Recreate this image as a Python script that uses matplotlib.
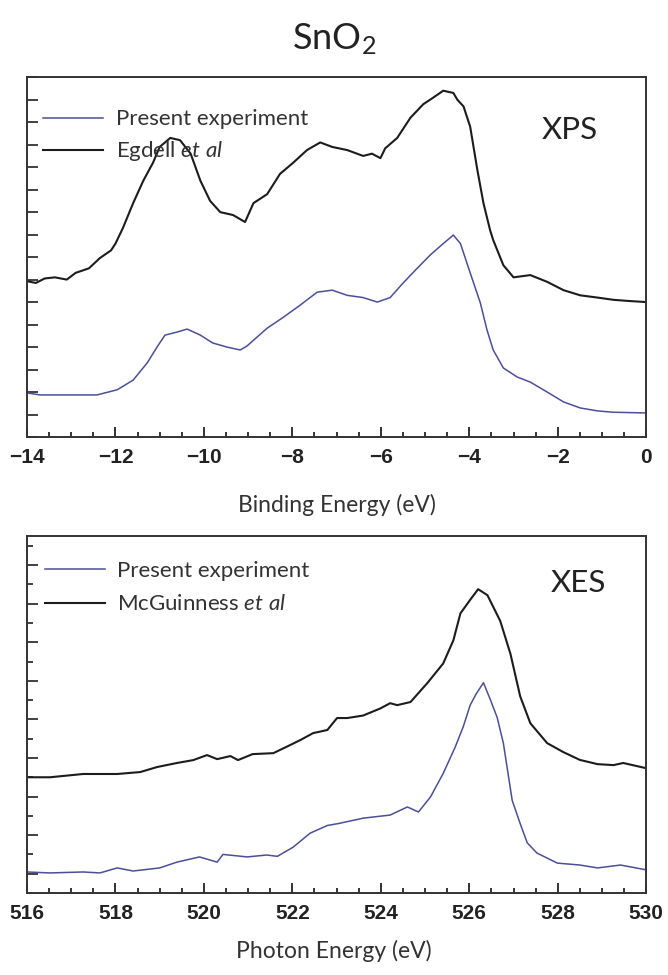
import numpy as np
import matplotlib
matplotlib.use("Agg")
import matplotlib.pyplot as plt
from matplotlib.ticker import MultipleLocator, FixedLocator

plt.rcParams["mathtext.fontset"] = "custom"
plt.rcParams["mathtext.rm"] = "Lato"
plt.rcParams["mathtext.it"] = "Lato:italic"

# XPS, binding energy (eV)
xps_egdell_e = [-14.0, -13.8, -13.6, -13.37, -13.1, -12.9, -12.6, -12.35, -12.1, -12.0,
                -11.83, -11.6, -11.37, -11.15, -11.0, -10.76, -10.54, -10.3, -10.08, -9.86,
                -9.63, -9.34, -9.07, -8.88, -8.57, -8.28, -7.98, -7.67, -7.37, -7.1,
                -6.76, -6.4, -6.2, -6.01, -5.9, -5.63, -5.33, -5.04, -4.81, -4.59,
                -4.36, -4.27, -4.13, -3.98, -3.82, -3.68, -3.53, -3.46, -3.23, -3.0,
                -2.62, -2.24, -1.87, -1.49, -1.1, -0.74, -0.4, 0.0]
xps_egdell_i = [6.93, 6.85, 7.05, 7.1, 7.0, 7.3, 7.5, 7.96, 8.3, 8.6,
                9.3, 10.4, 11.4, 12.2, 12.9, 13.3, 13.2, 12.6, 11.4, 10.5,
                10.0, 9.87, 9.56, 10.4, 10.8, 11.7, 12.2, 12.76, 13.1, 12.9,
                12.76, 12.5, 12.6, 12.4, 12.84, 13.3, 14.2, 14.8, 15.1, 15.4,
                15.3, 15.0, 14.7, 13.8, 11.9, 10.4, 9.2, 8.76, 7.64, 7.1,
                7.2, 6.9, 6.53, 6.3, 6.2, 6.1, 6.05, 6.0]

xps_present_e = [-14.0, -13.7, -13.1, -12.42, -11.96, -11.6, -11.28, -11.06, -10.88, -10.6,
                 -10.38, -10.08, -9.8, -9.48, -9.18, -9.03, -8.57, -8.2, -7.82, -7.44,
                 -7.1, -6.76, -6.4, -6.08, -5.79, -5.5, -5.18, -4.88, -4.59, -4.36,
                 -4.2, -3.98, -3.75, -3.6, -3.46, -3.23, -2.92, -2.62, -2.24, -1.87,
                 -1.49, -1.1, -0.74, 0.0]
xps_present_i = [1.96, 1.87, 1.87, 1.87, 2.1, 2.53, 3.3, 4.0, 4.53, 4.67,
                 4.8, 4.53, 4.18, 4.0, 3.87, 4.04, 4.84, 5.33, 5.87, 6.44,
                 6.53, 6.3, 6.2, 6.0, 6.2, 6.84, 7.5, 8.1, 8.6, 8.98,
                 8.6, 7.3, 5.96, 4.76, 3.87, 3.07, 2.67, 2.44, 2.0, 1.56,
                 1.29, 1.16, 1.1, 1.07]

# XES, photon energy (eV)
xes_mcg_e = [516.0, 516.52, 517.27, 518.04, 518.56, 518.94, 519.39, 519.76, 520.07, 520.3,
             520.6, 520.77, 521.1, 521.57, 521.95, 522.18, 522.47, 522.79, 523.01, 523.24,
             523.6, 523.99, 524.21, 524.37, 524.67, 525.05, 525.41, 525.64, 525.8, 526.02,
             526.2, 526.41, 526.7, 526.93, 527.15, 527.38, 527.76, 528.13, 528.5, 528.9,
             529.26, 529.48, 530.0]
xes_mcg_i = [6.0, 6.0, 6.17, 6.17, 6.27, 6.53, 6.74, 6.89, 7.15, 6.94,
             7.1, 6.89, 7.2, 7.25, 7.67, 7.93, 8.29, 8.45, 9.07, 9.07,
             9.2, 9.57, 9.84, 9.74, 9.9, 10.88, 11.9, 13.1, 14.5, 15.2,
             15.75, 15.44, 14.1, 12.4, 10.2, 8.8, 7.77, 7.3, 6.9, 6.68,
             6.63, 6.74, 6.47]

xes_present_e = [516.0, 516.52, 517.27, 517.65, 518.04, 518.4, 519.0, 519.39, 519.9, 520.3,
                 520.43, 520.98, 521.42, 521.66, 522.02, 522.4, 522.79, 523.04, 523.6, 524.21,
                 524.6, 524.85, 525.12, 525.41, 525.68, 525.86, 526.02, 526.15, 526.32, 526.48,
                 526.63, 526.77, 526.97, 527.15, 527.31, 527.53, 527.99, 528.5, 528.9, 529.42,
                 530.0]
xes_present_i = [1.09, 1.04, 1.09, 1.04, 1.3, 1.14, 1.3, 1.6, 1.87, 1.6,
                 2.0, 1.87, 1.97, 1.9, 2.38, 3.1, 3.5, 3.6, 3.88, 4.04,
                 4.46, 4.2, 4.97, 6.2, 7.56, 8.6, 9.74, 10.3, 10.9, 10.0,
                 9.1, 7.77, 4.8, 3.6, 2.6, 2.07, 1.55, 1.45, 1.3, 1.45,
                 1.2]

blue = "#4b4f98"
dark = "#1c1c1c"

fig = plt.figure(figsize=(6.68, 9.75), dpi=100)
ax1 = fig.add_axes([0.0404, 0.5518, 0.927, 0.369])
ax2 = fig.add_axes([0.0404, 0.0841, 0.927, 0.366])

ax1.plot(xps_present_e, xps_present_i, color=blue, lw=1.1, label="Present experiment")
ax1.plot(xps_egdell_e, xps_egdell_i, color=dark, lw=1.5, label=r"Egdell $\mathit{et\ al}$")
ax2.plot(xes_present_e, xes_present_i, color=blue, lw=1.1, label="Present experiment")
ax2.plot(xes_mcg_e, xes_mcg_i, color=dark, lw=1.5, label=r"McGuinness $\mathit{et\ al}$")

ax1.set_xlim(-14, 0)
ax1.set_ylim(0, 16)
ax2.set_xlim(516, 530)
ax2.set_ylim(0, 18.5)

for ax in (ax1, ax2):
    ax.xaxis.set_major_locator(MultipleLocator(2))
    ax.xaxis.set_minor_locator(MultipleLocator(0.5))
    ax.tick_params(axis="x", which="major", direction="in", length=7, width=1.3,
                   top=False, pad=8, labelsize=15, colors="#222222")
    ax.tick_params(axis="x", which="minor", direction="in", length=3.5, width=1.1, top=False)
    ax.tick_params(axis="y", which="both", direction="in", right=False, labelleft=False,
                   width=1.3, colors="#333333")
    for lbl in ax.get_xticklabels():
        lbl.set_fontfamily("Liberation Sans")
        lbl.set_fontweight("bold")
    for sp in ax.spines.values():
        sp.set_linewidth(1.4)
        sp.set_color("#333333")

ax1.legend(loc="upper left", bbox_to_anchor=(0.012, 0.935), frameon=False,
           prop={"family": "Lato", "size": 16}, handlelength=2.7,
           handletextpad=0.55, labelspacing=0.45, borderaxespad=0.0,
           labelcolor="#333333")
ax2.legend(loc="upper left", bbox_to_anchor=(0.015, 0.955), frameon=False,
           prop={"family": "Lato", "size": 16}, handlelength=2.7,
           handletextpad=0.55, labelspacing=0.6, borderaxespad=0.0,
           labelcolor="#333333")

ax1.yaxis.set_major_locator(MultipleLocator(1))
ax1.tick_params(axis="y", which="major", length=8)
ax2.yaxis.set_major_locator(FixedLocator(np.arange(1, 18, 2)))
ax2.yaxis.set_minor_locator(FixedLocator(np.arange(2, 19, 2)))
ax2.tick_params(axis="y", which="major", length=8)
ax2.tick_params(axis="y", which="minor", length=4.5)

ax1.text(0.877, 0.853, "XPS", transform=ax1.transAxes, ha="center", va="center",
         fontfamily="Lato", fontsize=22.5, color="#222222")
ax2.text(0.89, 0.868, "XES", transform=ax2.transAxes, ha="center", va="center",
         fontfamily="Lato", fontsize=22.5, color="#222222")

fig.text(0.504, 0.482, "Binding Energy (eV)", ha="center", va="center",
         fontfamily="Lato", fontsize=16.5, color="#333333")
fig.text(0.5, 0.025, "Photon Energy (eV)", ha="center", va="center",
         fontfamily="Lato", fontsize=16.5, color="#333333")
fig.text(0.5, 0.96, r"SnO$_2$", ha="center", va="center",
         fontfamily="Lato", fontsize=26, color="#222222")

fig.savefig("out.png", dpi=100)
